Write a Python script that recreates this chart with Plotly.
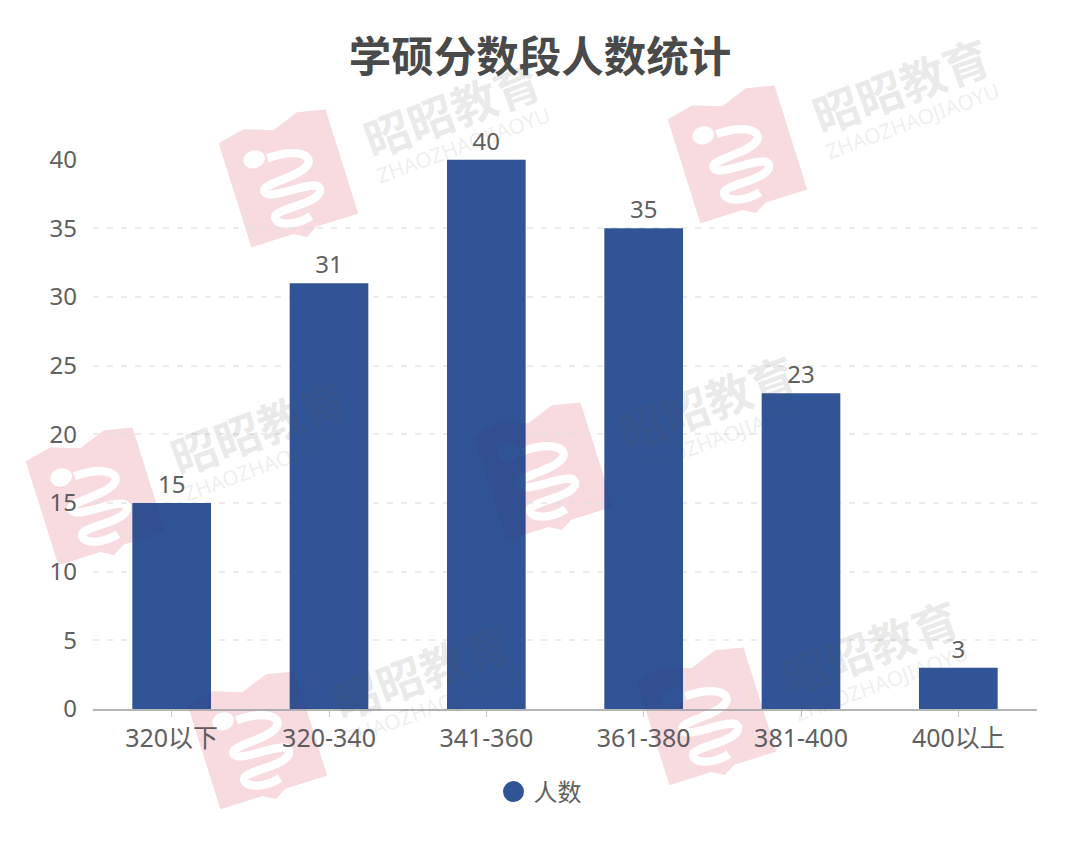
import math
import plotly.graph_objects as go

categories = ["320以下", "320-340", "341-360", "361-380", "381-400", "400以上"]
values = [15, 31, 40, 35, 23, 3]
series_name = "人数"
title_text = "学硕分数段人数统计"
y_ticks = [0, 5, 10, 15, 20, 25, 30, 35, 40]
watermark_centres = [(288, 177), (737, 153), (95, 495), (543, 470), (257, 739), (706, 715)]

FONT = "'Noto Sans', 'Noto Sans CJK SC', sans-serif"
PAGE = 8  # the page's own margin around the figure
W, H = 1080 - 2 * PAGE, 846 - 2 * PAGE
L, R, T, B = 93, 1037, 159, 709
ANGLE = -17.5
TEXT = "#606060"


def px(x, y):
    return (x - L) / (R - L), (B - y) / (B - T)


def local(cx, cy, u, v):
    a = math.radians(ANGLE)
    return px(cx + u * math.cos(a) - v * math.sin(a), cy + u * math.sin(a) + v * math.cos(a))


def poly(cx, cy, pts):
    coords = ["%.5f,%.5f" % local(cx, cy, u, v) for u, v in pts]
    return "M" + " L".join(coords) + " Z"


BOOK = [(-56, -53), (-28, -59), (0, -49), (28, -59), (56, -53), (56, 56), (12, 56), (0, 63), (-12, 56), (-56, 56)]
SNAKE_CTRL = [
    [(-14, -24), (16, -26), (34, -12), (20, -4)],
    [(20, -4), (4, 4), (-34, -2), (-26, 9)],
    [(-26, 9), (-20, 18), (36, 8), (26, 24)],
    [(26, 24), (16, 36), (-32, 24), (-24, 38)],
    [(-24, 38), (-20, 46), (0, 48), (10, 44)],
]


def snake_band(half=4.2):
    line = []
    for p0, p1, p2, p3 in SNAKE_CTRL:
        for i in range(12):
            t = i / 12
            s = 1 - t
            line.append(tuple(s**3 * p0[k] + 3 * s * s * t * p1[k] + 3 * s * t * t * p2[k] + t**3 * p3[k] for k in (0, 1)))
    line.append(SNAKE_CTRL[-1][-1])
    a, b = [], []
    for i, (u, v) in enumerate(line):
        u0, v0 = line[max(i - 1, 0)]
        u1, v1 = line[min(i + 1, len(line) - 1)]
        n = math.hypot(u1 - u0, v1 - v0) or 1
        nu, nv = -(v1 - v0) / n, (u1 - u0) / n
        a.append((u + nu * half, v + nv * half))
        b.append((u - nu * half, v - nv * half))
    return a + b[::-1]


HEAD = [(-27 + 11 * math.cos(i * math.pi / 10), -27 + 9 * math.sin(i * math.pi / 10)) for i in range(20)]
band = snake_band()

shapes, annotations = [], []
for cx, cy in watermark_centres:
    d = poly(cx, cy, BOOK) + " " + poly(cx, cy, band) + " " + poly(cx, cy, HEAD)
    shapes.append(dict(type="path", xref="paper", yref="paper", path=d, layer="below", fillrule="evenodd",
                       fillcolor="rgb(255,231,232)", line=dict(width=0)))
    shapes.append(dict(type="path", xref="paper", yref="paper", path=d, layer="above", fillrule="evenodd",
                       fillcolor="rgba(100,0,50,0.05)", line=dict(width=0)))
    x1, y1 = px(cx + 164, cy - 67)
    annotations.append(dict(xref="paper", yref="paper", x=x1, y=y1, xanchor="center", yanchor="middle",
                            text="<b>昭昭教育</b>", showarrow=False, textangle=-20,
                            font=dict(family=FONT, size=46, color="rgba(90,90,90,0.13)")))
    x2, y2 = px(cx + 175, cy - 32)
    annotations.append(dict(xref="paper", yref="paper", x=x2, y=y2, xanchor="center", yanchor="middle",
                            text="ZHAOZHAOJIAOYU", showarrow=False, textangle=-20,
                            font=dict(family=FONT, size=21, color="rgba(90,90,90,0.11)")))

fig = go.Figure()
fig.add_bar(x=categories, y=values, width=0.5, marker=dict(color="#305496", line=dict(width=0)),
            text=values, textposition="outside", cliponaxis=False, showlegend=False,
            textfont=dict(family=FONT, size=24, color=TEXT))
fig.add_scatter(x=[categories[0]], y=[None], mode="markers", name=series_name,
                marker=dict(color="#305496", size=16, symbol="circle", line=dict(color="#305496", width=5)))
fig.update_layout(
    width=W, height=H, autosize=False, paper_bgcolor="white", plot_bgcolor="white",
    margin=dict(l=L - PAGE, r=W - (R - PAGE), t=T - PAGE, b=H - (B - PAGE), autoexpand=False),
    title=dict(text="<b>" + title_text + "</b>", x=0.5, xanchor="center", y=1 - 49 / H, yanchor="middle",
               font=dict(family=FONT, size=42.5, color="#4a4a4a")),
    font=dict(family=FONT, size=24, color=TEXT),
    legend=dict(orientation="h", x=0.5, xanchor="center", xref="container", y=1 - 784 / H, yref="container",
                yanchor="middle", font=dict(family=FONT, size=24, color=TEXT), bgcolor="rgba(0,0,0,0)"),
    shapes=shapes, annotations=annotations, bargap=0.5,
)
fig.update_xaxes(type="category", categoryorder="array", categoryarray=categories, showgrid=False,
                 showline=True, linecolor="#b5b5b8", linewidth=2, ticks="outside", ticklen=6, tickcolor="#c8c8cc",
                 tickwidth=1, tickfont=dict(family=FONT, size=25, color=TEXT), ticklabelstandoff=0)
fig.update_yaxes(range=[0, 40.05], tickvals=y_ticks, showgrid=True, gridcolor="#ebebeb", griddash="6px,8px", gridwidth=2,
                 zeroline=False, showline=False, ticks="", ticklabelstandoff=15,
                 tickfont=dict(family=FONT, size=24, color=TEXT))
fig.write_html("out.html")
